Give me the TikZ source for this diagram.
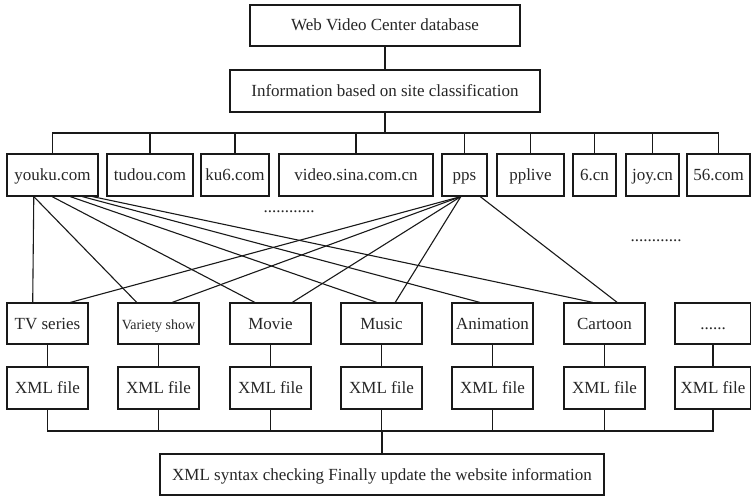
\documentclass[tikz,border=0pt]{standalone}
\usepackage{fontspec}
\setmainfont{Liberation Serif}
\usetikzlibrary{calc}
\begin{document}
\begin{tikzpicture}[x=1pt,y=-1pt,
  box/.style={draw=black!90,line width=1.2pt,rectangle,inner sep=0pt,font=\fontsize{17}{20}\selectfont,text=black!85,text height=12.5pt,text depth=1.5pt},
  site/.style={box,minimum height=42pt},
  cat/.style={box,minimum width=81pt,minimum height=41pt},
  xml/.style={box,minimum width=81pt,minimum height=42pt},
  conn/.style={draw=black!90,line width=1.1pt},
  dotlabel/.style={inner sep=0pt,font=\fontsize{17}{20}\selectfont,text=black!85}]
\useasboundingbox (0,0) rectangle (751,497);
% top
\node[box,minimum width=270pt,minimum height=41pt] (web) at (385,25.5) {Web Video Center database};
\node[box,minimum width=310pt,minimum height=42pt] (info) at (385,91) {Information based on site classification};
% sites
\node[site,minimum width=91pt] (youku) at (52.5,175) {youku.com};
\node[site,minimum width=86pt] (tudou) at (150,175) {tudou.com};
\node[site,minimum width=68pt] (ku6) at (235,175) {ku6.com};
\node[site,minimum width=154pt] (sina) at (356,175) {video.sina.com.cn};
\node[site,minimum width=45pt] (pps) at (464.5,175) {pps};
\node[site,minimum width=67pt] (pplive) at (530.5,175) {pplive};
\node[site,minimum width=43pt] (sixcn) at (594.5,175) {6.cn};
\node[site,minimum width=53pt] (joy) at (652.5,175) {joy.cn};
\node[site,minimum width=63pt] (fiftysix) at (718.5,175) {56.com};
\coordinate (bus) at (385,133);
\draw[conn] (web.south) -- (info.north);
\draw[conn] (info.south) -- (info.south |- bus);
\draw[conn] (youku.north) |- (fiftysix.north |- bus) -- (fiftysix.north);
\foreach \n in {tudou,ku6,sina,pps,pplive,sixcn,joy}
  \draw[conn] (\n.north) -- (\n.north |- bus);
% dotted labels
\node[dotlabel] (dotsA) at (289,212) {............};
\node[dotlabel] (dotsB) at (656,241) {............};
% categories
\node[cat] (tv) at (47.5,323.5) {TV series};
\node[cat,font=\fontsize{14}{16}\selectfont] (variety) at (158.5,323.5) {Variety show};
\node[cat] (movie) at (270.5,323.5) {Movie};
\node[cat] (music) at (381.5,323.5) {Music};
\node[cat] (anim) at (492.5,323.5) {Animation};
\node[cat] (cartoon) at (604.5,323.5) {Cartoon};
\node[cat,minimum width=76pt] (more) at (713,323.5) {......};
% xml files
\node[xml] (x1) at (47.5,388) {XML file};
\node[xml] (x2) at (158.5,388) {XML file};
\node[xml] (x3) at (270.5,388) {XML file};
\node[xml] (x4) at (381.5,388) {XML file};
\node[xml] (x5) at (492.5,388) {XML file};
\node[xml] (x6) at (604.5,388) {XML file};
\node[xml,minimum width=76pt] (x7) at (713,388) {XML file};
\draw[conn] (tv) -- (x1);
\draw[conn] (variety) -- (x2);
\draw[conn] (movie) -- (x3);
\draw[conn] (music) -- (x4);
\draw[conn] (anim) -- (x5);
\draw[conn] (cartoon) -- (x6);
\draw[conn] (more) -- (x7);
% bottom
\node[box,minimum width=444pt,minimum height=41pt] (final) at (382,474.5) {XML syntax checking Finally update the website information};
\coordinate (bus2) at (382,431);
\draw[conn] (x1.south) |- (x7.south |- bus2) -- (x7.south);
\foreach \n in {x2,x3,x4,x5,x6}
  \draw[conn] (\n.south) -- (\n.south |- bus2);
\draw[conn] (final.north |- bus2) -- (final.north);
% youku links
\draw[conn] ($(youku.south west)!0.297!(youku.south east)$) -- ($(tv.north west)!0.32!(tv.north east)$);
\draw[conn] ($(youku.south west)!0.297!(youku.south east)$) -- ($(variety.north west)!0.235!(variety.north east)$);
\draw[conn] ($(youku.south west)!0.495!(youku.south east)$) -- ($(movie.north west)!0.309!(movie.north east)$);
\draw[conn] ($(youku.south west)!0.692!(youku.south east)$) -- ($(music.north west)!0.444!(music.north east)$);
\draw[conn] ($(youku.south west)!0.824!(youku.south east)$) -- ($(anim.north west)!0.346!(anim.north east)$);
\draw[conn] ($(youku.south west)!0.934!(youku.south east)$) -- ($(cartoon.north west)!0.358!(cartoon.north east)$);
% pps links
\coordinate (ppsA) at ($(pps.south west)!0.42!(pps.south east)$);
\draw[conn] (ppsA) -- ($(tv.north west)!0.778!(tv.north east)$);
\draw[conn] (ppsA) -- ($(variety.north west)!0.667!(variety.north east)$);
\draw[conn] (ppsA) -- ($(movie.north west)!0.765!(movie.north east)$);
\draw[conn] (ppsA) -- ($(music.north west)!0.667!(music.north east)$);
\draw[conn] ($(pps.south west)!0.84!(pps.south east)$) -- ($(cartoon.north west)!0.654!(cartoon.north east)$);
\end{tikzpicture}
\end{document}
